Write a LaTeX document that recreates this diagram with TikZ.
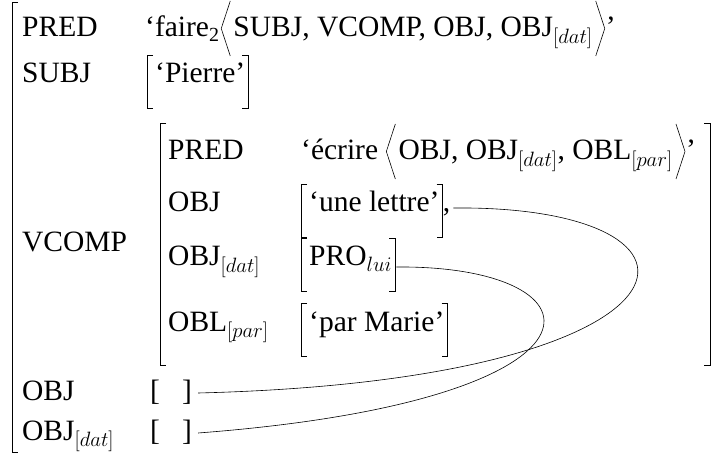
\documentclass[tikz,border=0pt]{standalone}
\usepackage{fontspec}
\setmainfont{Liberation Serif}
\usetikzlibrary{calc}
\newcommand\fsz{\fontsize{29.5}{35}\selectfont}
% square brackets hugging a value node
\newcommand\sqL[1]{\draw[brk] ([xshift=-2pt,yshift=28pt]#1.base west) -- ++(-6pt,0pt) -- ++(0pt,-53pt) -- ++(6pt,0pt);}
\newcommand\sqR[1]{\draw[brk] ([xshift=-3pt,yshift=28pt]#1.base east) -- ++(6pt,0pt) -- ++(0pt,-53pt) -- ++(-6pt,0pt);}
% tall angle brackets, tip on the given baseline point
\newcommand\angL[1]{\draw[ang] ([xshift=9pt,yshift=36pt]#1) -- ([yshift=8.5pt]#1) -- ([xshift=9pt,yshift=-19pt]#1);}
\newcommand\angR[1]{\draw[ang] ([yshift=36pt]#1) -- ([xshift=9pt,yshift=8.5pt]#1) -- ([yshift=-19pt]#1);}
\begin{document}
\begin{tikzpicture}[x=1pt,y=-1pt,
  lbl/.style={anchor=base west,inner sep=0pt,font=\fsz},
  brk/.style={line width=0.8pt},
  ang/.style={line width=0.6pt},
  lnk/.style={line width=0.6pt}]
\useasboundingbox (0,0) rectangle (715,454);

% outer f-structure bracket (left side only)
\draw[brk] (18,2) -- (12,2) -- (12,452) -- (18,452);

% PRED of faire
\node[lbl] (predA) at (22,37) {PRED};
\node[lbl] (faire) at (145,37) {‘faire\raisebox{-0.35ex}{\fontsize{20}{20}\selectfont 2}};
\coordinate (fL) at ([xshift=2pt]faire.base east);
\angL{fL}
\node[lbl,xshift=14pt] (argsA) at (faire.base east) {SUBJ, VCOMP, OBJ, OBJ$_{[dat]}$};
\coordinate (fR) at ([xshift=3pt]argsA.base east);
\angR{fR}
\node[lbl,xshift=13pt] (qA) at (argsA.base east) {’};

% SUBJ
\node[lbl] (subj) at (22,83) {SUBJ};
\node[lbl] (pierre) at (155,83) {‘Pierre’};
\sqL{pierre}\sqR{pierre}

% VCOMP
\node[lbl] (vcomp) at (22,252) {VCOMP};
\draw[brk] (166,123) -- (160,123) -- (160,365) -- (166,365);
\draw[brk] (704,123) -- (710,123) -- (710,365) -- (704,365);

\node[lbl] (predB) at (168,160) {PRED};
\node[lbl] (ecrire) at (301,160) {‘écrire};
\coordinate (eL) at ([xshift=8pt]ecrire.base east);
\angL{eL}
\node[lbl,xshift=20pt] (argsB) at (ecrire.base east) {OBJ, OBJ$_{[dat]}$, OBL$_{[par]}$};
\coordinate (eR) at ([xshift=3pt]argsB.base east);
\angR{eR}
\node[lbl,xshift=13pt] (qB) at (argsB.base east) {’};

\node[lbl] (objB) at (168,212) {OBJ};
\node[lbl] (lettre) at (309,212) {‘une lettre’};
\sqL{lettre}\sqR{lettre}
\node[lbl,xshift=3pt] (comma) at (lettre.base east) {,};
\coordinate (lettreEnd) at ([xshift=3pt,yshift=4pt]comma.base east);

\node[lbl] (objdatB) at (168,266) {OBJ$_{[dat]}$};
\node[lbl] (pro) at (309,266) {PRO$_{lui}$};
\sqL{pro}\sqR{pro}
\coordinate (proEnd) at ([xshift=4pt,yshift=-1pt]pro.base east);

\node[lbl] (oblB) at (168,331) {OBL$_{[par]}$};
\node[lbl] (marie) at (309,331) {‘par Marie’};
\sqL{marie}\sqR{marie}

% shared functions of faire
\node[lbl] (objA) at (22,400) {OBJ};
\node[lbl] (objAval) at (150,400) {[\hspace{0.75em}]};
\coordinate (objAEnd) at ([xshift=6pt,yshift=7pt]objAval.base east);
\node[lbl] (objdatA) at (22,440) {OBJ$_{[dat]}$};
\node[lbl] (objdatAval) at (150,440) {[\hspace{0.75em}]};
\coordinate (objdatAEnd) at ([xshift=6pt,yshift=7pt]objdatAval.base east);

% structure-sharing links
\draw[lnk] (lettreEnd) .. controls (740,205) and (720,380) .. (objAEnd);
\draw[lnk] (proEnd) .. controls (610,265) and (630,400) .. (objdatAEnd);
\end{tikzpicture}
\end{document}
